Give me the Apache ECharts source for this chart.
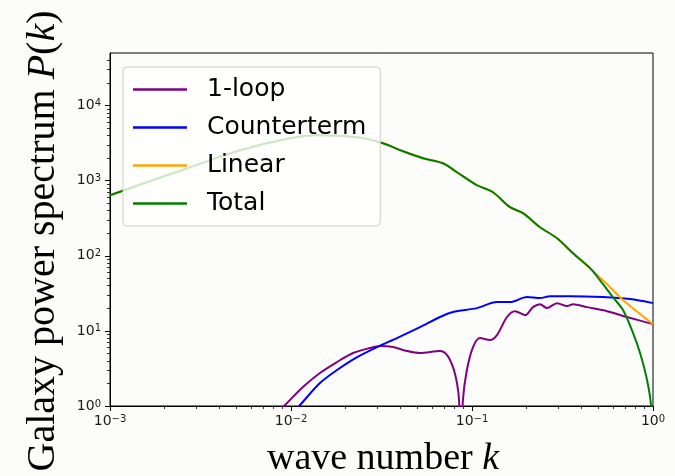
<!DOCTYPE html>
<html>
<head>
<meta charset="utf-8">
<script src="https://cdn.jsdelivr.net/npm/echarts@6/dist/echarts.min.js"></script>
<style>
  html, body { margin: 0; padding: 0; background: #fcfdfa; }
  #chart { width: 675px; height: 476px; }
</style>
</head>
<body>
<div id="chart"></div>
<script>
// Series names, in drawing order
const seriesNames = ['1-loop', 'Counterterm', 'Linear', 'Total'];

// 1-loop contribution
const kLoop = [0.00826, 0.00927, 0.01164, 0.01445, 0.01795, 0.02203, 0.0273, 0.0310, 0.0366, 0.0438,
               0.0516, 0.0666, 0.0728, 0.0785, 0.0826, 0.0848, 0.0869, 0.0891, 0.0937, 0.1013,
               0.1108, 0.1256, 0.1374, 0.156, 0.173, 0.1965, 0.2173, 0.2377, 0.2594, 0.2951,
               0.335, 0.3614, 0.4315, 0.557, 0.718, 1.0];
const pLoop = [0.78, 1.03, 1.79, 2.75, 3.85, 5.07, 5.91, 6.28, 6.09, 5.39,
               5.07, 5.39, 4.77, 3.30, 2.02, 1.2, 0.2, 1.2, 3.01, 6.09,
               8.02, 7.55, 8.79, 15.3, 18.3, 16.2, 20.7, 22.7, 20.1, 23.4,
               21.4, 22.7, 20.7, 18.3, 15.3, 12.3];

// Counterterm contribution
const kCounter = [0.00987, 0.01122, 0.01445, 0.01795, 0.0232, 0.0299, 0.0385, 0.0516, 0.0666, 0.0785,
                  0.1066, 0.1374, 0.1622, 0.2013, 0.2377, 0.270, 0.348, 0.529, 0.746, 1.0];
const pCounter = [0.736, 1.03, 2.02, 3.01, 4.48, 6.09, 8.02, 11.2, 15.3, 17.8,
                  20.1, 24.2, 24.2, 28.2, 27.3, 29.0, 29.0, 28.2, 26.5, 23.4];

// Linear power spectrum
const kLinear = [0.001, 0.00277, 0.00523, 0.00987, 0.0139, 0.0232, 0.0322, 0.0416, 0.0536, 0.0691,
                 0.0826, 0.1066, 0.1306, 0.1622, 0.1914, 0.2377, 0.2951, 0.3614, 0.4487, 0.557,
                 0.6826, 1.0];
const pLinear = [640, 1507, 2536, 3664, 4017, 3777, 3143, 2460, 1986, 1703,
                 1294, 868, 701, 443, 369, 240, 171, 108, 68.4, 41.9,
                 25.7, 12.3];

// Total spectrum
const kTotal = [0.001, 0.00277, 0.00523, 0.00987, 0.0139, 0.0232, 0.0322, 0.0416, 0.0536, 0.0691,
                0.0826, 0.1066, 0.1306, 0.1622, 0.1914, 0.2377, 0.2951, 0.3614, 0.4487, 0.509,
                0.601, 0.6826, 0.776, 0.848, 0.927, 0.975, 1.0];
const pTotal = [640, 1507, 2536, 3664, 4017, 3777, 3143, 2460, 1986, 1703,
                1294, 868, 701, 443, 369, 240, 171, 108, 68.4, 47.4,
                28.1, 18.9, 9.35, 5.07, 2.22, 1.03, 0.3];

// Axis ranges and tick positions
const xRange = [0.001, 1];
const yRange = [1, 50000];
const xMajorTicks = [0.001, 0.01, 0.1, 1];
const yMajorTicks = [1, 10, 100, 1000, 10000];
const xMinorTicks = [0.002, 0.003, 0.004, 0.005, 0.006, 0.007, 0.008, 0.009,
                     0.02, 0.03, 0.04, 0.05, 0.06, 0.07, 0.08, 0.09,
                     0.2, 0.3, 0.4, 0.5, 0.6, 0.7, 0.8, 0.9];
const yMinorTicks = [2, 3, 4, 5, 6, 7, 8, 9,
                     20, 30, 40, 50, 60, 70, 80, 90,
                     200, 300, 400, 500, 600, 700, 800, 900,
                     2000, 3000, 4000, 5000, 6000, 7000, 8000, 9000,
                     20000, 30000, 40000];

const colors = ['#800080', '#0000ff', '#ffa500', '#008000'];

const pairs = (ks, ps) => ks.map((k, i) => [k, ps[i]]);
const seriesData = [pairs(kLoop, pLoop), pairs(kCounter, pCounter),
                    pairs(kLinear, pLinear), pairs(kTotal, pTotal)];

// "10^n" labels with a raised exponent
const powerLabel = v => {
  const e = Math.round(Math.log10(v));
  return '{b|10}{s|' + (e < 0 ? '\u2212' + (-e) : e) + '}';
};
const tickRich = {
  b: { fontFamily: 'DejaVu Sans', fontSize: 14, color: '#1a1a1a', lineHeight: 14, verticalAlign: 'bottom' },
  s: { fontFamily: 'DejaVu Sans', fontSize: 10, color: '#1a1a1a', lineHeight: 10, verticalAlign: 'top', padding: [0, 0, 8, 0] }
};

const majorAxis = (range, ticks, margin) => ({
  type: 'log', logBase: 10, min: range[0], max: range[1],
  axisLine: { show: true, lineStyle: { color: '#000', width: 1 } },
  axisTick: { show: true, inside: false, length: 5, customValues: ticks, lineStyle: { color: '#000', width: 1 } },
  axisLabel: { customValues: ticks, margin: margin, formatter: powerLabel, rich: tickRich },
  splitLine: { show: false },
  minorTick: { show: false }
});
const minorAxis = (range, ticks, pos) => ({
  type: 'log', logBase: 10, min: range[0], max: range[1], position: pos,
  axisLine: { show: false },
  axisTick: { show: true, inside: false, length: 3, customValues: ticks, lineStyle: { color: '#000', width: 0.8 } },
  axisLabel: { show: false },
  splitLine: { show: false }
});

const chart = echarts.init(document.getElementById('chart'), null, { renderer: 'canvas' });

chart.setOption({
  animation: false,
  backgroundColor: '#fcfdfa',
  grid: { left: 110, right: 22, top: 53, bottom: 70, show: true, borderColor: '#000', borderWidth: 1, backgroundColor: 'transparent' },
  xAxis: [majorAxis(xRange, xMajorTicks, 8), minorAxis(xRange, xMinorTicks, 'bottom')],
  yAxis: [majorAxis(yRange, yMajorTicks, 9), minorAxis(yRange, yMinorTicks, 'left')],
  legend: {
    data: seriesNames,
    orient: 'vertical',
    left: 123, top: 67,
    icon: 'rect',
    itemWidth: 54, itemHeight: 2.5, itemGap: 13,
    itemStyle: { borderWidth: 0 },
    padding: [10, 14, 10, 10],
    backgroundColor: 'rgba(255,255,255,0.8)',
    borderColor: '#cccccc', borderWidth: 1, borderRadius: 4,
    selectedMode: false,
    textStyle: { fontFamily: 'DejaVu Sans', fontSize: 25, color: '#000', lineHeight: 25, padding: [0, 0, 0, 15] }
  },
  series: seriesNames.map((name, i) => ({
    name: name, type: 'line', xAxisIndex: 0, yAxisIndex: 0,
    data: seriesData[i],
    showSymbol: false, symbol: 'none', smooth: 0.3, clip: true,
    color: colors[i],
    lineStyle: { color: colors[i], width: 2 }
  })),
  graphic: [
    {
      type: 'text', x: 383, y: 459,
      style: {
        text: '{a|wave number }{i|k}',
        align: 'center', verticalAlign: 'middle',
        rich: {
          a: { fontFamily: 'Liberation Serif', fontSize: 38, color: '#555555' },
          i: { fontFamily: 'Liberation Serif', fontSize: 38, fontStyle: 'italic', color: '#555555' }
        }
      }
    },
    {
      type: 'text', x: 43, y: 241, rotation: Math.PI / 2,
      style: {
        text: '{a|Galaxy power spectrum }{i|P}{a|(}{i|k}{a|)}',
        align: 'center', verticalAlign: 'middle',
        rich: {
          a: { fontFamily: 'Liberation Serif', fontSize: 40, color: '#555555' },
          i: { fontFamily: 'Liberation Serif', fontSize: 40, fontStyle: 'italic', color: '#555555' }
        }
      }
    }
  ]
});
</script>
</body>
</html>
